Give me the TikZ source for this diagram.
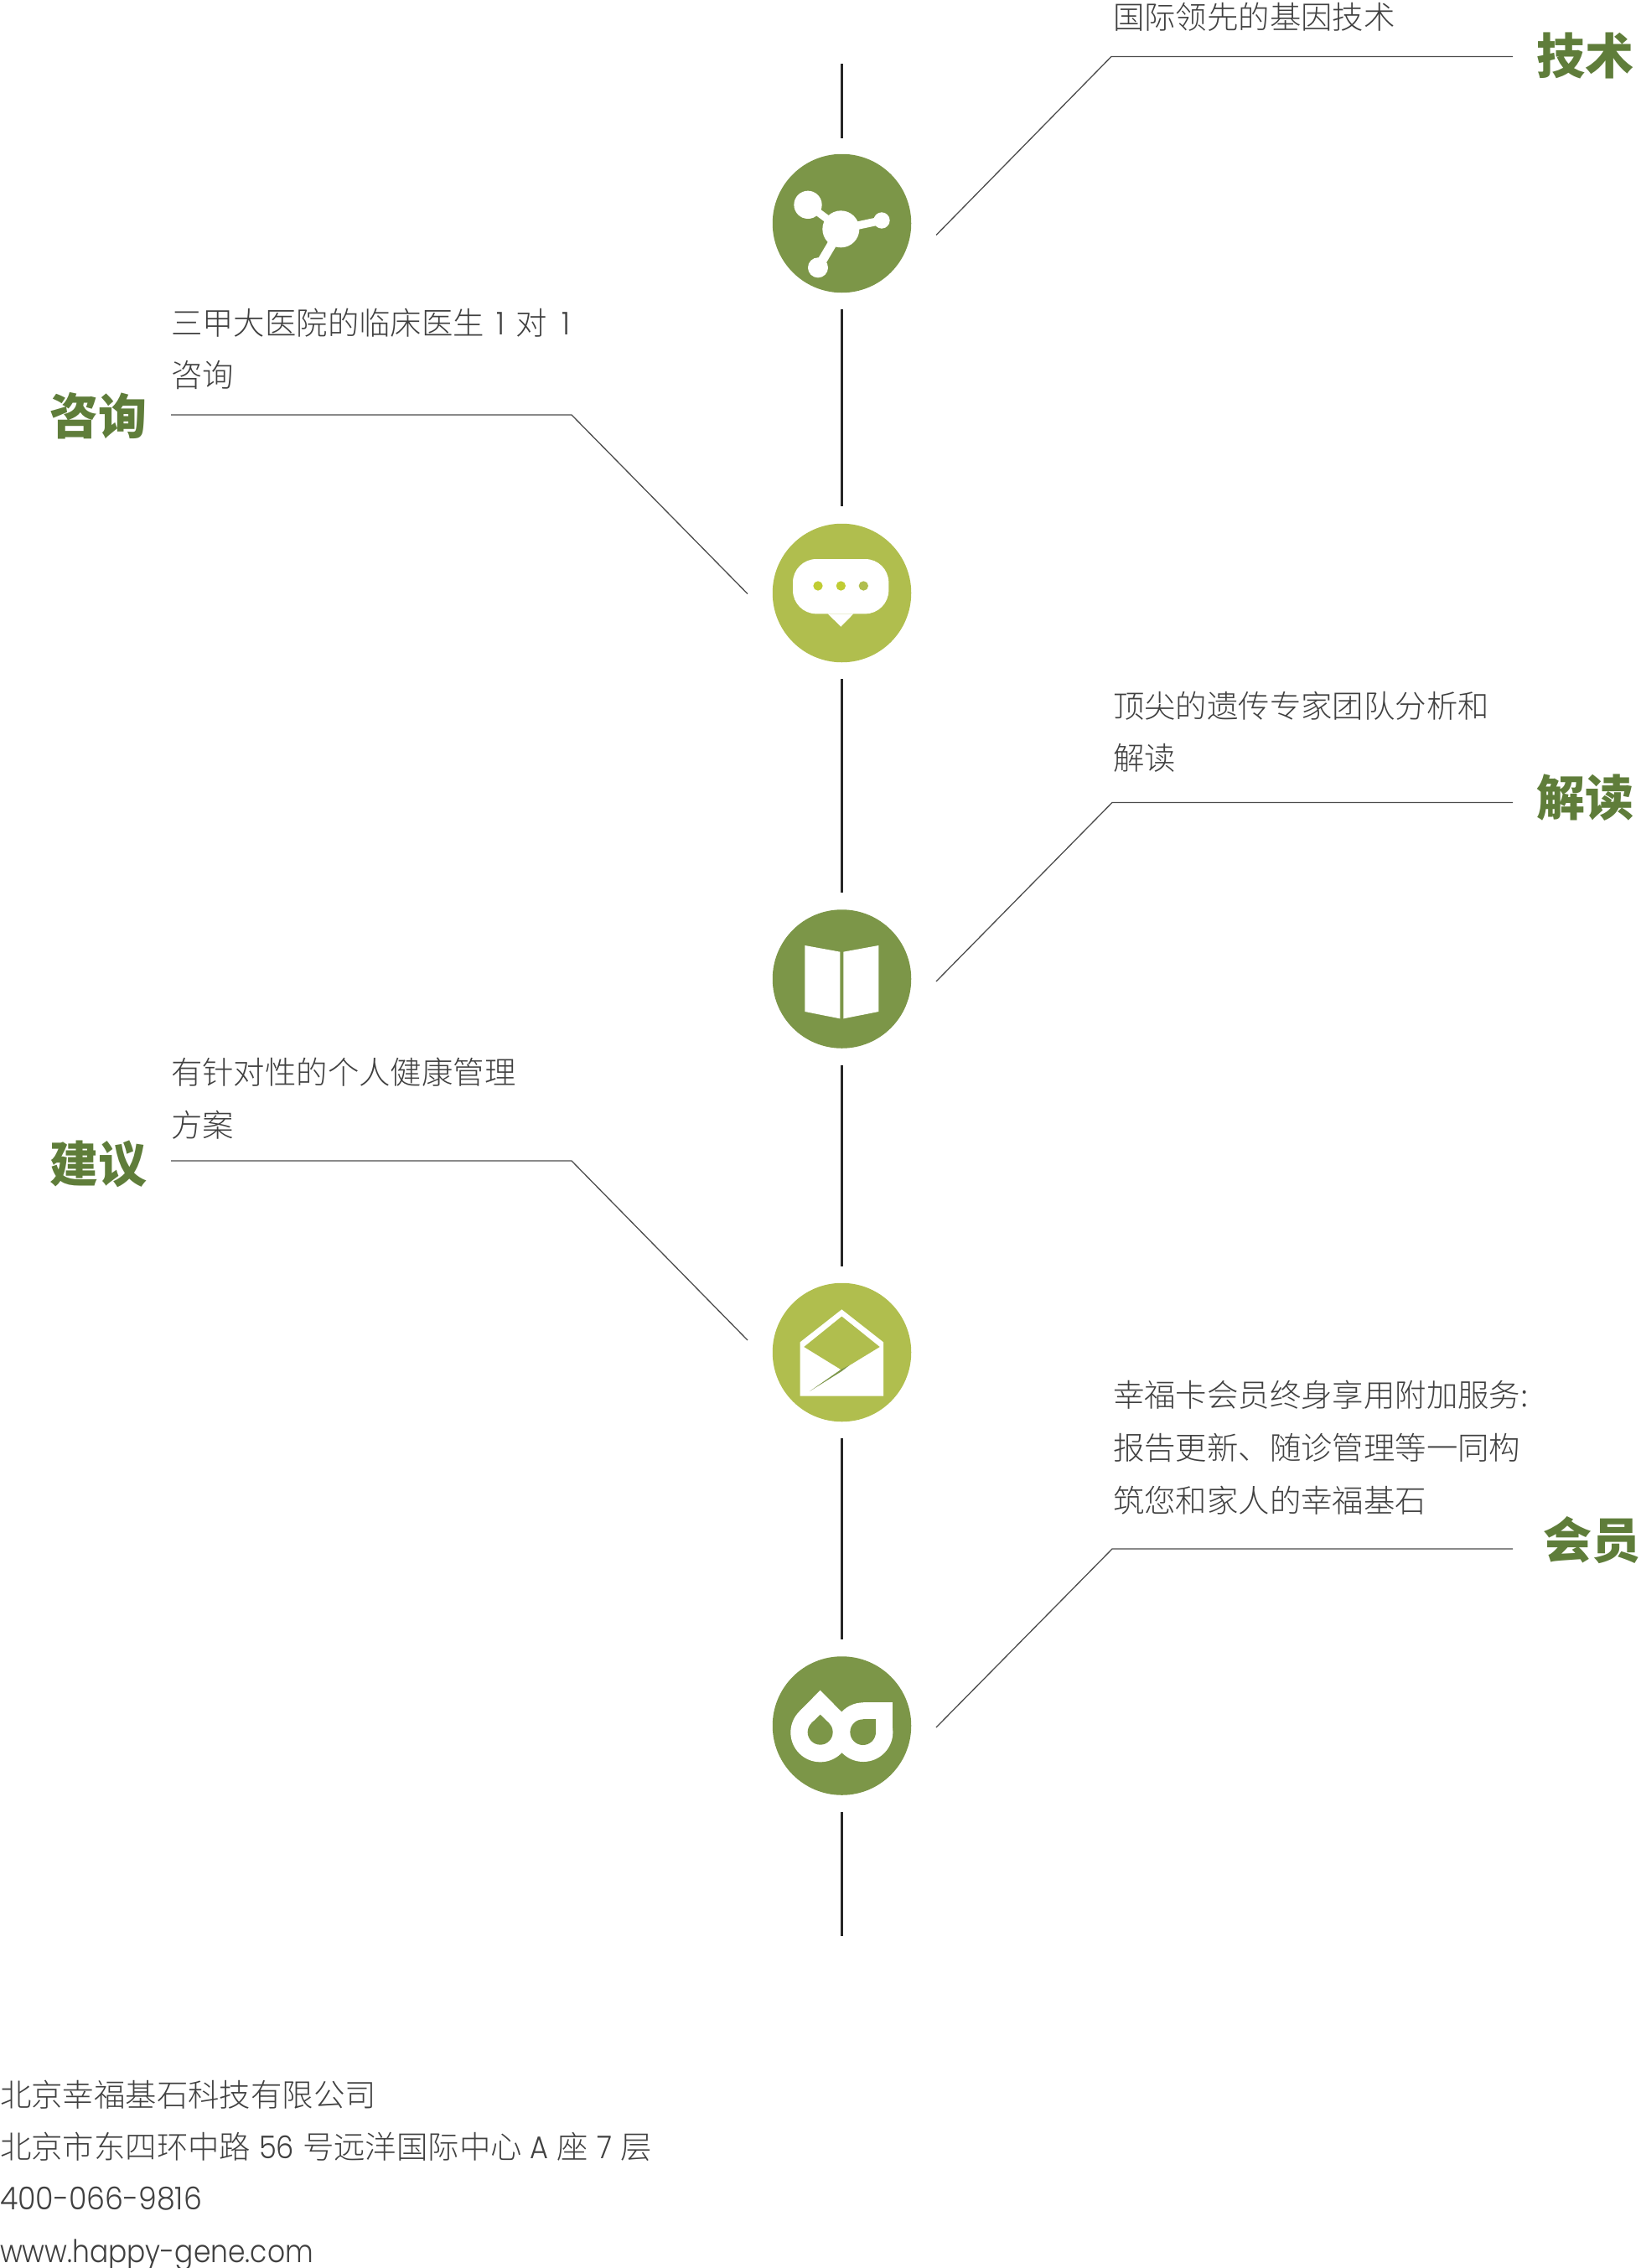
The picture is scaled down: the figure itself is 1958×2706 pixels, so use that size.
\documentclass[tikz,border=0pt]{standalone}
\usepackage{fontspec}
\setmainfont{Poppins Light}
\newfontfamily\cjkl{Noto Sans CJK SC Light}
\newfontfamily\cjkb{Noto Sans CJK SC Black}
\newfontfamily\latl[FakeStretch=0.9]{Poppins Light}
\newfontfamily\latd[FakeStretch=0.93]{Poppins Light}
\newfontfamily\latu[FakeStretch=0.88]{Poppins Light}
\newcommand{\La}[1]{{\latl #1}}
\newcommand{\gp}{\hspace{10pt}}
\definecolor{gdark}{HTML}{7C9648}
\definecolor{glite}{HTML}{B0BE4E}
\definecolor{gtitle}{HTML}{5F7D3A}
\definecolor{txt}{HTML}{404040}
\definecolor{dotA}{HTML}{C0CC33}
\tikzset{
  body/.style={anchor=base west,inner sep=0pt,outer sep=0pt,text=txt,font={\fontsize{37.4}{37.4}\selectfont\cjkl}},
  headline/.style={anchor=base west,inner sep=0pt,outer sep=0pt,text=gtitle,font={\fontsize{58}{58}\selectfont\cjkb}},
  disc/.style={circle,inner sep=0pt,outer sep=0pt,minimum size=165.5pt},
  spine/.style={draw=black!85,line width=2.6pt},
  leader/.style={draw=black!70,line width=1.3pt},
  icon/.style={x=0.33333pt,y=-0.33333pt},
}
\begin{document}
\begin{tikzpicture}[x=1pt,y=-1pt]
\useasboundingbox (0,0) rectangle (1958,2706);
% discs
\node[disc,fill=gdark] (c1) at (1004.5,266.5) {};
\node[disc,fill=glite] (c2) at (1004.5,707.5) {};
\node[disc,fill=gdark] (c3) at (1004.5,1168) {};
\node[disc,fill=glite] (c4) at (1004.5,1613.5) {};
\node[disc,fill=gdark] (c5) at (1004.5,2059) {};
% spine
\coordinate (s0a) at (1004.5,76);  \coordinate (s0b) at (1004.5,165);
\coordinate (s1a) at (1004.5,369); \coordinate (s1b) at (1004.5,604);
\coordinate (s2a) at (1004.5,810); \coordinate (s2b) at (1004.5,1065);
\coordinate (s3a) at (1004.5,1271);\coordinate (s3b) at (1004.5,1511);
\coordinate (s4a) at (1004.5,1716);\coordinate (s4b) at (1004.5,1956);
\coordinate (s5a) at (1004.5,2162);\coordinate (s5b) at (1004.5,2310);
\foreach \n in {0,...,5} \draw[spine] (s\n a) -- (s\n b);
% leaders
\coordinate (la1) at (1117,280.5);  \coordinate (lb1) at (1326,67.5);  \coordinate (lc1) at (1805,67.5);
\coordinate (la2) at (892,708.5);   \coordinate (lb2) at (682,495);    \coordinate (lc2) at (204,495);
\coordinate (la3) at (1117,1171); \coordinate (lb3) at (1327,957.5); \coordinate (lc3) at (1805,957.5);
\coordinate (la4) at (892,1599);  \coordinate (lb4) at (682,1385);   \coordinate (lc4) at (204,1385);
\coordinate (la5) at (1117,2061); \coordinate (lb5) at (1327,1848);  \coordinate (lc5) at (1805,1848);
\foreach \n in {1,...,5} \draw[leader] (la\n) -- (lb\n) -- (lc\n);
% icon 1 molecule
\begin{scope}[shift={(900,160)},icon]
\fill[white] (310,340) circle[radius=66] (192,253) circle[radius=50] (456,309) circle[radius=29] (228,478) circle[radius=36];
\draw[white,line width=9pt] (310,340) -- (192,253);
\draw[white,line width=9.5pt] (310,340) -- (456,309);
\draw[white,line width=11pt] (310,340) -- (228,478);
\end{scope}
% icon 2 chat
\begin{scope}[shift={(900,610)},icon]
\fill[white] (263,367) -- (310,413) -- (355,367) -- cycle;
\fill[white,rounded corners=28pt] (138,171) rectangle (481,367);
\fill[dotA] (228,267) circle[radius=17] (310,267) circle[radius=17];
\fill[glite] (391,267) circle[radius=17];
\end{scope}
% icon 3 book
\begin{scope}[shift={(900,1070)},icon]
\fill[white] (181,174) -- (307,197) -- (307,436) -- (181,411) -- cycle;
\fill[white] (319,197) -- (445,174) -- (445,411) -- (319,436) -- cycle;
\end{scope}
% icon 4 envelope
\begin{scope}[shift={(900,1520)},icon]
\fill[white] (164,244) -- (313,127) -- (462,244) -- (462,437) -- (164,437) -- cycle;
\fill[glite] (178,261) -- (313,152) -- (449,261) -- (313,344) -- cycle;
\fill[gdark] (198,420) -- (310,342) -- (340,327) -- (313,348) -- cycle;
\end{scope}
% icon 5 logo
\begin{scope}[shift={(900,1960)},icon]
\fill[white] (236,321) circle[radius=106] (390,320) circle[radius=106];
\fill[white] (236,170) -- (160.5,246.6) -- (311.5,246.6) -- cycle;
\fill[white] (390,214) rectangle (496,320);
\fill[gdark] (236,320) circle[radius=45] (389,320) circle[radius=46];
\fill[gdark] (236,257) -- (204.5,288) -- (267.5,288) -- cycle;
\fill[gdark] (389,274) rectangle (435,320);
\end{scope}
% texts
\node[body] (t1) at (1328,34.5) {国际领先的基因技术};
\node[headline] (h1) at (1833,88) {技术};
\node[body] (t2a) at (204,399) {三甲大医院的临床医生\hspace{14pt}\La{1}\hspace{14pt}对\hspace{17pt}\La{1}};
\node[body] (t2b) at (204,461) {咨询};
\node[headline] (h2) at (59,518) {咨询};
\node[body] (t3a) at (1328,856) {顶尖的遗传专家团队分析和};
\node[body] (t3b) at (1328,918) {解读};
\node[headline] (h3) at (1833,973) {解读};
\node[body] (t4a) at (204,1293) {有针对性的个人健康管理};
\node[body] (t4b) at (204,1356) {方案};
\node[headline] (h4) at (59,1410) {建议};
\node[body] (t5a) at (1328,1678) {幸福卡会员终身享用附加服务:};
\node[body] (t5b) at (1328,1741) {报告更新、随诊管理等一同构};
\node[body] (t5c) at (1328,1804) {筑您和家人的幸福基石};
\node[headline] (h5) at (1841,1859) {会员};
\node[body] (f1) at (0,2513) {北京幸福基石科技有限公司};
\node[body] (f2) at (0,2575) {北京市东四环中路\gp\La{56}\gp 号远洋国际中心\gp\La{A}\gp 座\gp\La{7}\gp 层};
\node[body] (f3) at (0,2636) {{\latd 400-066-9816}};
\node[body] (f4) at (0,2699) {{\latu www.happy-gene.com}};
\end{tikzpicture}
\end{document}
